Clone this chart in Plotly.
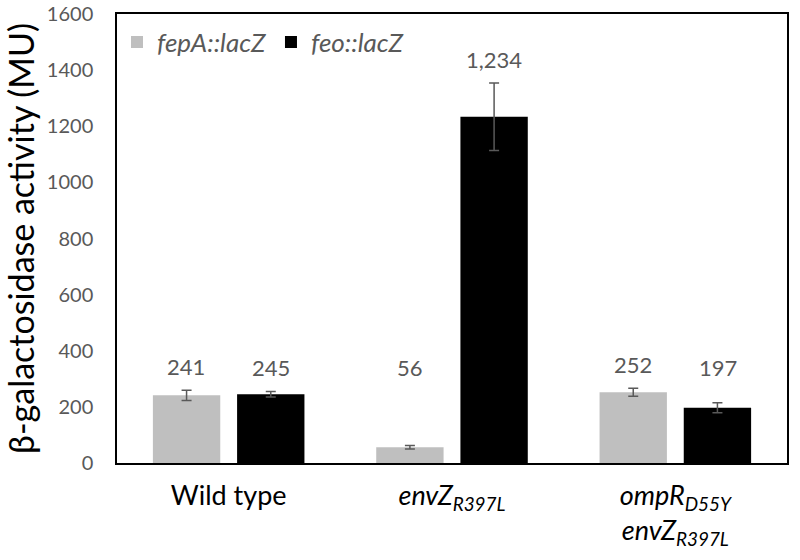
import plotly.graph_objects as go

# --- data ---
strains = ["Wild type", "envZ_R397L", "ompR_D55Y envZ_R397L"]
strain_labels = [
    "Wild type",
    "<i>envZ<sub>R397L</sub></i>",
    "<i>ompR<sub>D55Y</sub></i><br><i>envZ<sub>R397L</sub></i>",
]
fepA_values = [241, 56, 252]
fepA_errors = [18, 6, 14]
feo_values = [245, 1234, 197]
feo_errors = [10, 120, 18]
value_labels_fepA = ["241", "56", "252"]
value_labels_feo = ["245", "1,234", "197"]

FONT = "Lato, 'Open Sans', sans-serif"
GREY_TEXT = "#595959"
LABEL_FLOOR = 255  # the small 56 label sits up with the others

fig = go.Figure()
fig.add_trace(go.Bar(
    x=strains, y=fepA_values, name="<i>fepA::lacZ</i>",
    marker=dict(color="#BFBFBF", line=dict(width=0)),
    error_y=dict(type="data", array=fepA_errors, color=GREY_TEXT, thickness=1.5, width=5),
))
fig.add_trace(go.Bar(
    x=strains, y=feo_values, name="<i>feo::lacZ</i>",
    marker=dict(color="#000000", line=dict(width=0)),
    error_y=dict(type="data", array=feo_errors, color=GREY_TEXT, thickness=1.5, width=5),
))

# value labels above the error bars
bar_shift = 0.19
for i, s in enumerate(strains):
    for vals, errs, labs, sign in [(fepA_values, fepA_errors, value_labels_fepA, -1),
                                   (feo_values, feo_errors, value_labels_feo, 1)]:
        fig.add_annotation(
            x=i + sign * bar_shift, y=max(vals[i] + errs[i], LABEL_FLOOR),
            xref="x", yref="y", text=labs[i], showarrow=False,
            yanchor="bottom", yshift=8,
            font=dict(family=FONT, size=22, color=GREY_TEXT),
        )

fig.update_layout(
    width=800, height=560,
    margin=dict(l=117, r=13, t=14, b=97),
    paper_bgcolor="white", plot_bgcolor="white",
    barmode="group", bargap=0.246, bargroupgap=0.2,
    font=dict(family=FONT, color="black"),
    showlegend=True,
    legend=dict(
        orientation="h", x=0.0, y=0.99, xanchor="left", yanchor="top",
        font=dict(family=FONT, size=26, color=GREY_TEXT),
        bgcolor="rgba(0,0,0,0)", itemwidth=30,
    ),
)
fig.update_xaxes(
    type="category", automargin=False,
    tickmode="array", tickvals=strains, ticktext=strain_labels,
    tickfont=dict(family=FONT, size=27, color="black"),
    ticklabelstandoff=8,
    showline=True, linecolor="black", linewidth=1.5, mirror=True,
    ticks="", showgrid=False,
)
fig.update_yaxes(
    range=[0, 1600], dtick=200, automargin=False,
    tickfont=dict(family=FONT, size=20, color=GREY_TEXT),
    ticklabelstandoff=18, ticklabeloverflow="allow",
    title=dict(text="β-galactosidase activity (MU)", font=dict(family=FONT, size=34, color="black"), standoff=2),
    showline=True, linecolor="black", linewidth=1.5, mirror=True,
    ticks="", showgrid=False, zeroline=False,
)

# drop the page's default body margin so the figure sits at the window corner
fig.write_html("out.html", config={"displayModeBar": False},
               post_script="document.body.style.margin='0';")
